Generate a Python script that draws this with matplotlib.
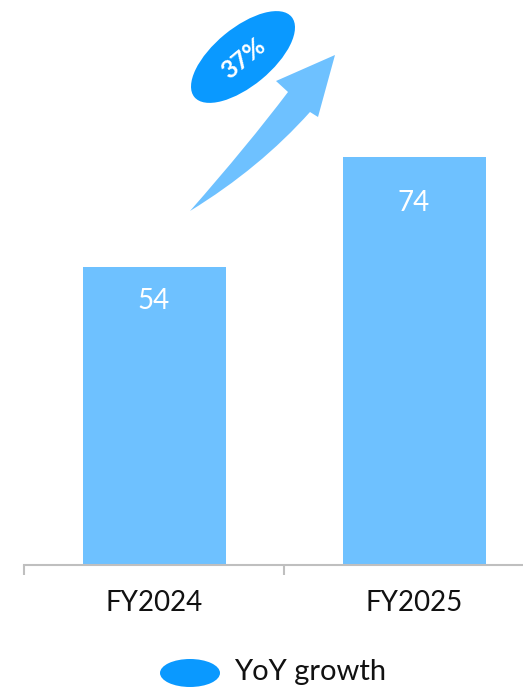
import matplotlib
matplotlib.use("Agg")
import matplotlib.pyplot as plt
from matplotlib.patches import Ellipse, PathPatch
from matplotlib.path import Path
from matplotlib.transforms import IdentityTransform

categories = ["FY2024", "FY2025"]
values = [54, 74]
growth_label = "37%"
legend_label = "YoY growth"

BAR = "#6EC1FF"
DARK = "#0A99FF"
FONT = ["Lato", "DejaVu Sans"]

W, H = 523, 689
fig = plt.figure(figsize=(W / 100, H / 100), dpi=100)
# axes: baseline at y=565px, left at x=24px, category spacing 260px
ax = fig.add_axes([24 / W, 1 - 565 / H, 520 / W, 565 / H])
ax.bar(range(len(values)), values, width=0.55, color=BAR, zorder=2)
ax.set_xlim(-0.5, 1.5)
ax.set_ylim(0, 565 / 5.52)
for i, v in enumerate(values):
    ax.text(i, v * 0.885, str(v), ha="center", va="center", color="white",
            fontsize=20, family=FONT)

for s in ["top", "right", "left"]:
    ax.spines[s].set_visible(False)
ax.spines["bottom"].set_color("#BFBFBF")
ax.spines["bottom"].set_linewidth(1.5)
ax.set_yticks([])
ax.set_xticks([-0.5, 0.5, 1.5])
ax.set_xticklabels([])
ax.tick_params(axis="x", length=7, width=1.5, color="#BFBFBF")
for i, c in enumerate(categories):
    ax.text(i, -0.068, c, transform=ax.get_xaxis_transform(), ha="center",
            va="center", fontsize=20, family=FONT, color="#111111")

# curved arrow (pixel coords -> figure fraction)
def p(x, y):
    return (x / W, 1 - y / H)

verts = [p(190, 211), p(260, 168), p(310, 112), p(318, 117), p(335, 55),
         p(276, 81), p(288, 92), p(248, 145), p(190, 211)]
codes = [Path.MOVETO, Path.CURVE3, Path.CURVE3, Path.LINETO, Path.LINETO,
         Path.LINETO, Path.LINETO, Path.CURVE3, Path.CURVE3]
fig.patches.append(PathPatch(Path(verts, codes), facecolor=BAR, edgecolor="none",
                             transform=fig.transFigure))

# growth ellipse (pixel coordinates)
ell = Ellipse((243, H - 57), 126, 58, angle=39.5, facecolor=DARK, edgecolor="none")
ell.set_transform(IdentityTransform())
fig.patches.append(ell)
fig.text(243 / W, 1 - 58 / H, growth_label, rotation=39.5, ha="center", va="center",
         color="white", fontsize=18, fontweight="bold", family=FONT)

# legend
leg = Ellipse((190, H - 673), 60, 28, facecolor=DARK, edgecolor="none")
leg.set_transform(IdentityTransform())
fig.patches.append(leg)
fig.text(234 / W, 1 - 672 / H, legend_label, ha="left", va="center", fontsize=21,
         family=FONT, color="#111111")

fig.savefig("out.png", dpi=100)
